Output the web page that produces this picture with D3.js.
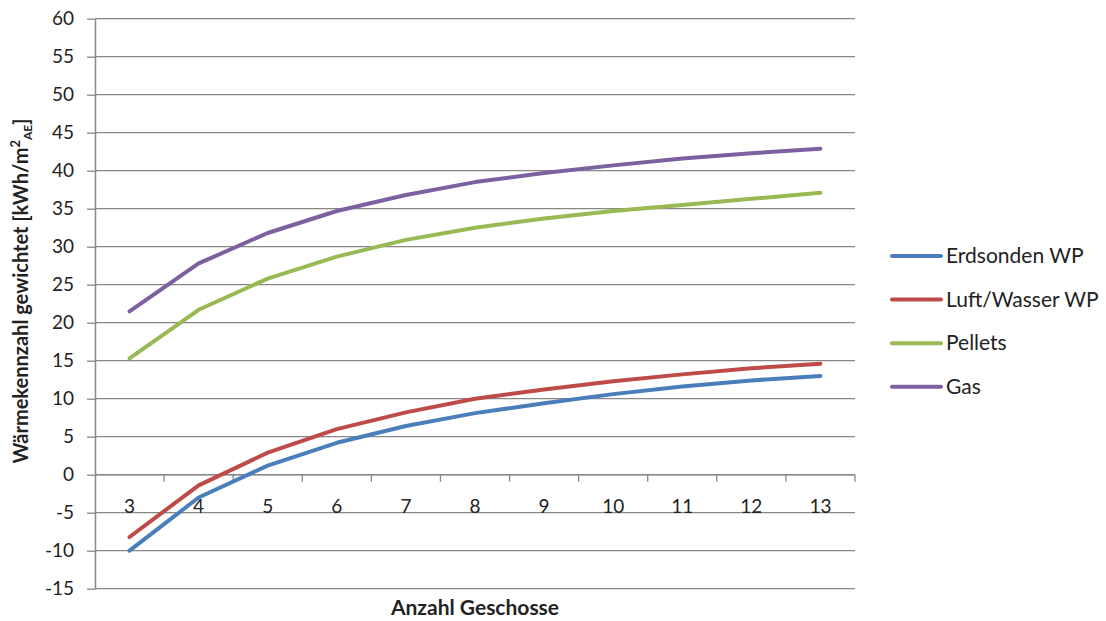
<!DOCTYPE html>
<html>
<head>
<meta charset="utf-8">
<script src="https://cdn.jsdelivr.net/npm/d3@7"></script>
<style>
  html, body { margin: 0; padding: 0; background: #fff; }
  svg { display: block; }
  text { font-family: Lato, "Open Sans", sans-serif; fill: #222; }
</style>
</head>
<body>
<svg id="chart" width="1106" height="621"></svg>
<script>
// Anzahl Geschosse (x categories)
const floors = [3, 4, 5, 6, 7, 8, 9, 10, 11, 12, 13];

// Wärmekennzahl gewichtet per system, kWh/m² AE
const erdsondenWP    = [-10.0, -3.0, 1.2, 4.2, 6.4, 8.1, 9.4, 10.6, 11.6, 12.4, 13.0];
const luftWasserWP   = [-8.2, -1.4, 2.9, 6.0, 8.2, 10.0, 11.2, 12.3, 13.2, 14.0, 14.6];
const pellets        = [15.3, 21.7, 25.8, 28.7, 30.9, 32.5, 33.7, 34.7, 35.5, 36.3, 37.1];
const gas            = [21.5, 27.8, 31.8, 34.7, 36.8, 38.5, 39.7, 40.7, 41.6, 42.3, 42.9];

const seriesNames  = ["Erdsonden WP", "Luft/Wasser WP", "Pellets", "Gas"];
const seriesValues = [erdsondenWP, luftWasserWP, pellets, gas];
const seriesColors = ["#4a7ebb", "#be4b48", "#98b954", "#7d60a0"];

const yTicks = [-15, -10, -5, 0, 5, 10, 15, 20, 25, 30, 35, 40, 45, 50, 55, 60];

const svg = d3.select("#chart");
const plot = { left: 95, right: 855, top: 18.7, bottom: 588.7 };
const gridColor = "#878787";

const x = d3.scaleBand()
  .domain(floors)
  .range([plot.left, plot.right])
  .padding(0);

const y = d3.scaleLinear()
  .domain([-15, 60])
  .range([plot.bottom, plot.top]);

// horizontal gridlines
svg.append("g")
  .selectAll("line")
  .data(yTicks)
  .join("line")
  .attr("x1", plot.left)
  .attr("x2", plot.right)
  .attr("y1", d => y(d))
  .attr("y2", d => y(d))
  .attr("stroke", gridColor)
  .attr("stroke-width", 1.3);

// y axis with outward ticks
const yAxis = d3.axisLeft(y)
  .tickValues(yTicks)
  .tickFormat(d => String(d))
  .tickSize(8)
  .tickPadding(13)
  .tickSizeOuter(0);

const gy = svg.append("g")
  .attr("transform", `translate(${plot.left},0)`)
  .call(yAxis);
gy.select(".domain").attr("stroke", gridColor).attr("stroke-width", 1.5);
gy.selectAll(".tick line").attr("stroke", gridColor).attr("stroke-width", 1.3);
gy.selectAll(".tick text")
  .attr("font-size", 19)
  .attr("fill", "#222")
  .style("font-family", "Lato, 'Open Sans', sans-serif");

// x axis on the zero line, tick marks at the category boundaries
const zeroY = y(0);
svg.append("line")
  .attr("x1", plot.left).attr("x2", plot.right)
  .attr("y1", zeroY).attr("y2", zeroY)
  .attr("stroke", gridColor).attr("stroke-width", 1.5);

const boundaries = floors.map(f => x(f)).concat([x(floors[floors.length - 1]) + x.bandwidth()]);
svg.append("g")
  .selectAll("line")
  .data(boundaries.slice(1))
  .join("line")
  .attr("x1", d => d).attr("x2", d => d)
  .attr("y1", zeroY).attr("y2", zeroY + 7)
  .attr("stroke", gridColor).attr("stroke-width", 1.3);

svg.append("g")
  .selectAll("text")
  .data(floors)
  .join("text")
  .attr("x", d => x(d) + x.bandwidth() / 2)
  .attr("y", zeroY + 38)
  .attr("text-anchor", "middle")
  .attr("font-size", 19)
  .text(d => d);

// series lines
const line = d3.line()
  .x((d, i) => x(floors[i]) + x.bandwidth() / 2)
  .y(d => y(d));

svg.append("g")
  .selectAll("path")
  .data(seriesValues)
  .join("path")
  .attr("d", d => line(d))
  .attr("fill", "none")
  .attr("stroke", (d, i) => seriesColors[i])
  .attr("stroke-width", 4)
  .attr("stroke-linecap", "round")
  .attr("stroke-linejoin", "round");

// legend
const legend = svg.append("g").attr("transform", "translate(892,256)");
const rows = legend.selectAll("g")
  .data(seriesNames)
  .join("g")
  .attr("transform", (d, i) => `translate(0,${i * 43.6})`);
rows.append("line")
  .attr("x1", 0).attr("x2", 49)
  .attr("y1", 0).attr("y2", 0)
  .attr("stroke", (d, i) => seriesColors[i])
  .attr("stroke-width", 4)
  .attr("stroke-linecap", "round");
rows.append("text")
  .attr("x", 54)
  .attr("y", 7)
  .attr("font-size", 21)
  .text(d => d);

// axis titles
svg.append("text")
  .attr("x", 475)
  .attr("y", 615)
  .attr("text-anchor", "middle")
  .attr("font-size", 21)
  .attr("font-weight", "bold")
  .text("Anzahl Geschosse");

const yTitle = svg.append("text")
  .attr("transform", "translate(28,291) rotate(-90)")
  .attr("text-anchor", "middle")
  .attr("font-size", 20)
  .attr("font-weight", "bold");
yTitle.append("tspan").text("Wärmekennzahl gewichtet [kWh/m");
yTitle.append("tspan").attr("font-size", 13).attr("dy", -8).text("2");
yTitle.append("tspan").attr("font-size", 12).attr("dy", 12).text("AE");
yTitle.append("tspan").attr("dy", -4).text("]");
</script>
</body>
</html>
